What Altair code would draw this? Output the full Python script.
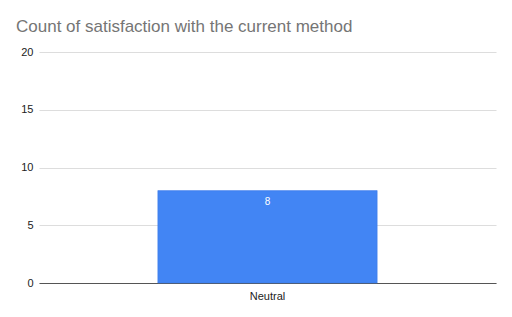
import altair as alt
import pandas as pd

categories = ["Neutral"]
counts = [8]
y_ticks = [0, 5, 10, 15, 20]

df = pd.DataFrame({"category": categories, "count": counts})

base = alt.Chart(df).encode(
    x=alt.X("category:N", title=None, sort=categories,
            scale=alt.Scale(paddingInner=0.52, paddingOuter=0.26),
            axis=alt.Axis(labelAngle=0, labelFontSize=11, labelColor="#222222",
                          labelFont="Liberation Sans", domainColor="#555555",
                          domainWidth=1, ticks=False, labelPadding=7)),
    y=alt.Y("count:Q", title=None,
            scale=alt.Scale(domain=[0, 20], nice=False),
            axis=alt.Axis(values=y_ticks, labelFontSize=11, labelColor="#222222",
                          labelFont="Liberation Sans", domain=False, ticks=False,
                          gridColor="#dddddd", labelPadding=6)),
)

bars = base.mark_bar(color="#4285F4", stroke="#3b78e7", strokeWidth=0.5)
labels = base.mark_text(baseline="top", dy=6, color="#ffffff", fontSize=10,
                        font="Liberation Sans").encode(text="count:Q")

chart = (bars + labels).properties(
    width=457, height=231,
    padding={"left": 39, "top": 52, "right": 16, "bottom": 34},
    autosize=alt.AutoSizeParams(type="none"),
    title=alt.TitleParams("Count of satisfaction with the current method",
                          anchor="start", frame="group", dx=-23, offset=10,
                          fontSize=17, fontWeight="normal", color="#757575",
                          font="Liberation Sans"),
).configure_view(stroke=None).configure_axisX(grid=False)

chart.save("out.html", embed_options={"renderer": "svg", "actions": False})
